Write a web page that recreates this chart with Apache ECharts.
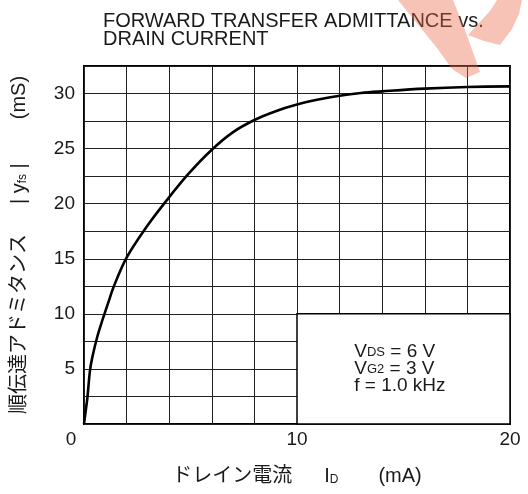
<!DOCTYPE html>
<html>
<head>
<meta charset="utf-8">
<script src="https://cdn.jsdelivr.net/npm/echarts@6/dist/echarts.min.js"></script>
<style>
html,body{margin:0;padding:0;background:#fff;}
#c{width:528px;height:494px;}
</style>
</head>
<body>
<div id="c"></div>
<script>
// Drain current I_D (mA)
var drainCurrent = [0, 0.08, 0.16, 0.28, 0.39, 0.62, 0.86, 1.17, 1.38, 2.0, 2.94, 3.88, 4.9, 6.0, 7.0, 8.0, 9.0, 10.0, 11.0, 12.0, 13.0, 14.0, 16.0, 18.0, 20.0];
// Forward transfer admittance |yfs| (mS)
var admittance = [0, 1.2, 2.4, 4.85, 6.05, 7.9, 9.4, 11.2, 12.4, 15.1, 17.9, 20.3, 22.7, 24.9, 26.5, 27.6, 28.4, 29.0, 29.45, 29.8, 30.05, 30.2, 30.45, 30.6, 30.65];
var xTickLabels = [0, 10, 20];
var yTickLabels = [5, 10, 15, 20, 25, 30];
var conditionBox = {x: [10, 20], y: [0, 10]};
var titleLines = ['FORWARD TRANSFER ADMITTANCE vs.', 'DRAIN CURRENT'];

var LATIN = '"Liberation Sans", Arial, sans-serif';
var CJK = '"Liberation Sans", "Noto Sans CJK JP", sans-serif';
var TXT = '#1a1a1a';
var PINK = 'rgba(238,105,75,0.4)';

var chart = echarts.init(document.getElementById('c'));
var option = {
  animation: false,
  backgroundColor: '#fff',
  title: {
    text: titleLines.join('\n'),
    left: 98, top: 7,
    textStyle: {fontFamily: LATIN, fontSize: 20, fontWeight: 'normal', color: TXT, lineHeight: 18}
  },
  grid: {left: 84, right: 18, top: 66, bottom: 70, show: true, borderColor: '#000', borderWidth: 2, backgroundColor: 'transparent'},
  xAxis: {
    type: 'value', min: 0, max: 20, interval: 2,
    axisLine: {show: false}, axisTick: {show: false},
    splitLine: {show: true, lineStyle: {color: '#222', width: 1}},
    axisLabel: {
      margin: 6, color: TXT, fontFamily: LATIN, fontSize: 19,
      formatter: function (v) {
        if (xTickLabels.indexOf(v) < 0) return '';
        if (v === 0) return '{o|0}';
        return String(v);
      },
      rich: {o: {fontFamily: LATIN, fontSize: 19, color: TXT, padding: [0, 26, 0, 0]}}
    },
    name: '{a|ドレイン電流}{i|I}{s|D}{m|(mA)}',
    nameLocation: 'middle', nameGap: 42,
    nameTextStyle: {
      rich: {
        a: {fontFamily: CJK, fontSize: 20, color: TXT, padding: [0, 32, 0, 0]},
        i: {fontFamily: LATIN, fontSize: 20, color: TXT},
        s: {fontFamily: LATIN, fontSize: 12, color: TXT, padding: [0, 40, 0, 0], verticalAlign: 'bottom'},
        m: {fontFamily: LATIN, fontSize: 20, color: TXT}
      }
    }
  },
  yAxis: {
    type: 'value', min: 0, max: 32.5, interval: 2.5,
    axisLine: {show: false}, axisTick: {show: false},
    splitLine: {show: true, lineStyle: {color: '#222', width: 1}},
    axisLabel: {
      margin: 9, color: TXT, fontFamily: LATIN, fontSize: 19,
      formatter: function (v) { return yTickLabels.indexOf(v) >= 0 ? String(v) : ''; }
    },
    name: '{a|順伝達アドミタンス}{b|| y}{s|fs}{c| |}{m|(mS)}',
    nameLocation: 'middle', nameRotate: 90, nameGap: 55,
    nameTextStyle: {
      rich: {
        a: {fontFamily: CJK, fontSize: 20, color: TXT, padding: [0, 30, 0, 0]},
        b: {fontFamily: LATIN, fontSize: 20, color: TXT},
        s: {fontFamily: LATIN, fontSize: 12, color: TXT, verticalAlign: 'bottom'},
        c: {fontFamily: LATIN, fontSize: 20, color: TXT, padding: [0, 44, 0, 0]},
        m: {fontFamily: LATIN, fontSize: 20, color: TXT}
      }
    }
  },
  series: [{
    type: 'line',
    data: drainCurrent.map(function (x, i) { return [x, admittance[i]]; }),
    showSymbol: false, smooth: 0.35,
    lineStyle: {color: '#000', width: 2.6},
    markArea: {
      silent: true,
      itemStyle: {color: '#fff', borderColor: '#000', borderWidth: 1.5},
      label: {
        show: true, position: 'insideLeft', distance: 58,
        formatter: 'V{s|DS} = 6 V\nV{s|G2} = 3 V\nf = 1.0 kHz',
        fontFamily: LATIN, fontSize: 19, color: TXT, lineHeight: 17,
        rich: {s: {fontFamily: LATIN, fontSize: 13, color: TXT, lineHeight: 17}}
      },
      data: [[{coord: [conditionBox.x[0], conditionBox.y[1]]}, {coord: [conditionBox.x[1], conditionBox.y[0]]}]]
    }
  }],
  graphic: [
    {type: 'polygon', z: 100, silent: true,
     shape: {points: [[398, 0], [453, 0], [465, 30], [480, 72], [466, 78], [452, 69], [437, 48], [420, 27]]},
     style: {fill: PINK}},
    {type: 'polygon', z: 100, silent: true,
     shape: {points: [[497, 0], [522, 0], [519, 14], [512, 29], [500, 45], [484, 41], [468, 35], [478, 24], [490, 11]]},
     style: {fill: PINK}}
  ]
};
chart.setOption(option);
</script>
</body>
</html>
